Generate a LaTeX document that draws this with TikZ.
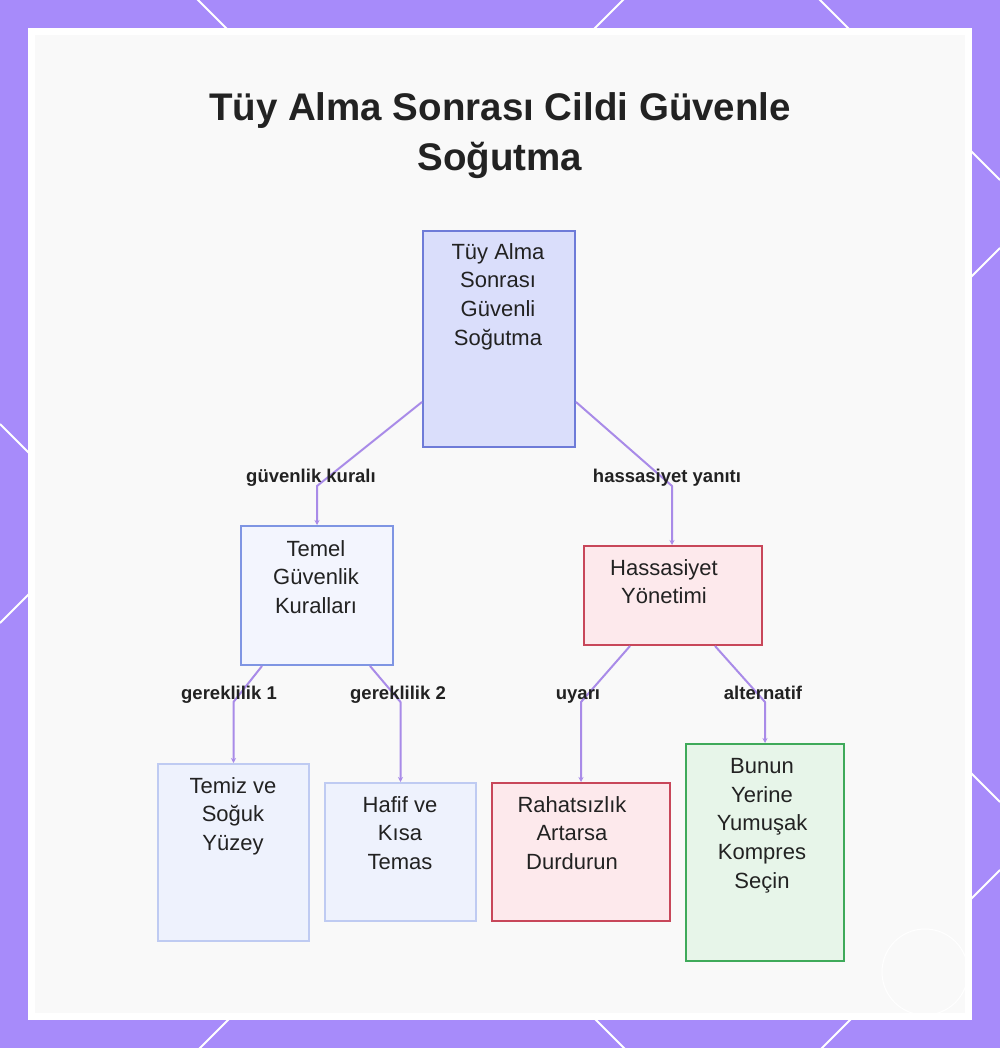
\documentclass[tikz,border=0pt]{standalone}
\usepackage{fontspec}
\setmainfont{Liberation Sans}
\usetikzlibrary{arrows.meta,calc}
\definecolor{bordpurple}{HTML}{A78BFA}
\definecolor{panelbg}{HTML}{F9F9F9}
\definecolor{textdark}{HTML}{222222}
\definecolor{connc}{HTML}{A98BE8}
\definecolor{rootfill}{HTML}{DADEFB}
\definecolor{rootdraw}{HTML}{6E7BD8}
\definecolor{midfill}{HTML}{F3F5FE}
\definecolor{middraw}{HTML}{7F95E3}
\definecolor{leaffill}{HTML}{EEF2FD}
\definecolor{leafdraw}{HTML}{BFCBF2}
\definecolor{redfill}{HTML}{FDE9EC}
\definecolor{reddraw}{HTML}{C8475A}
\definecolor{greenfill}{HTML}{E7F5E9}
\definecolor{greendraw}{HTML}{3FAA5A}
\tikzset{
  boxbase/.style={draw, line width=2pt, inner sep=0pt, anchor=north west},
  rootbox/.style={boxbase, fill=rootfill, draw=rootdraw},
  midbox/.style={boxbase, fill=midfill, draw=middraw},
  leafbox/.style={boxbase, fill=leaffill, draw=leafdraw},
  redbox/.style={boxbase, fill=redfill, draw=reddraw},
  greenbox/.style={boxbase, fill=greenfill, draw=greendraw},
  ntext/.style={font=\fontsize{22}{28.7}\selectfont, align=center, inner sep=0pt, text=textdark, anchor=north},
  elabel/.style={font=\bfseries\fontsize{18.5}{22}\selectfont, inner sep=0pt, text=textdark, anchor=base},
  conn/.style={draw=connc, line width=2pt, line join=round, -{Stealth[length=5pt,width=5pt]}},
  latline/.style={white, line width=2pt}
}
\begin{document}
\begin{tikzpicture}[x=1pt,y=-1pt]
\useasboundingbox (0,0) rectangle (1000,1048);
% frame
\fill[bordpurple] (0,0) rectangle (1000,1048);
\begin{scope}
\clip (0,0) rectangle (1000,1048);
\foreach \c in {-820,-198,424} \draw[latline] (0,\c) -- (1000,{1000+\c});
\foreach \d in {623,1248,1870} \draw[latline] (0,\d) -- (1000,{\d-1000});
\end{scope}
\fill[white] (28,28) rectangle (972,1020);
\fill[panelbg] (35,35) rectangle (965,1013);
\draw[white, line width=1pt] (925,972) circle (43pt);
% title
\node[font=\bfseries\fontsize{38.5}{50}\selectfont, align=center, inner sep=0pt, text=textdark, anchor=north] (title) at (500,92) {Tüy Alma Sonrası Cildi Güvenle\\Soğutma};
% boxes
\node[rootbox, minimum width=152, minimum height=216] (root) at (422,230) {};
\node[midbox, minimum width=152, minimum height=139] (temel) at (240,525) {};
\node[redbox, minimum width=178, minimum height=99] (hass) at (583,545) {};
\node[leafbox, minimum width=151, minimum height=177] (temiz) at (157,763) {};
\node[leafbox, minimum width=151, minimum height=138] (hafif) at (324,782) {};
\node[redbox, minimum width=178, minimum height=138] (rahat) at (491,782) {};
\node[greenbox, minimum width=158, minimum height=217] (bunun) at (685,743) {};
% box texts
\node[ntext] (roott) at (498,243) {Tüy Alma\\Sonrası\\Güvenli\\Soğutma};
\node[ntext] (temelt) at (316,540) {Temel\\Güvenlik\\Kuralları};
\node[ntext] (hasst) at (664,559) {Hassasiyet\\Yönetimi};
\node[ntext] (temizt) at (233,777) {Temiz ve\\Soğuk\\Yüzey};
\node[ntext] (hafift) at (400,796) {Hafif ve\\Kısa\\Temas};
\node[ntext] (rahatt) at (572,796) {Rahatsızlık\\Artarsa\\Durdurun};
\node[ntext] (bununt) at (762,758) {Bunun\\Yerine\\Yumuşak\\Kompres\\Seçin};
% connectors
\draw[conn] ($(root.south west)+(0,-46)$) -- ($(temel.north)+(0,-39)$) -- (temel.north);
\draw[conn] ($(root.south east)+(0,-46)$) -- ($(hass.north)+(-1,-59)$) -- ($(hass.north)+(-1,0)$);
\draw[conn] ($(temel.south west)+(22,0)$) -- ($(temiz.north)+(0,-61)$) -- (temiz.north);
\draw[conn] ($(temel.south west)+(130,0)$) -- ($(hafif.north)+(0,-80)$) -- (hafif.north);
\draw[conn] ($(hass.south west)+(47,0)$) -- ($(rahat.north)+(0,-80)$) -- (rahat.north);
\draw[conn] ($(hass.south west)+(132,0)$) -- ($(bunun.north)+(0,-41)$) -- (bunun.north);
% edge labels
\node[elabel] (lab1) at (311,482.5) {güvenlik kuralı};
\node[elabel] (lab2) at (667,482.5) {hassasiyet yanıtı};
\node[elabel] (lab3) at (229,699.5) {gereklilik 1};
\node[elabel] (lab4) at (398,699.5) {gereklilik 2};
\node[elabel] (lab5) at (578,699.5) {uyarı};
\node[elabel] (lab6) at (763,699.5) {alternatif};
\end{tikzpicture}
\end{document}
